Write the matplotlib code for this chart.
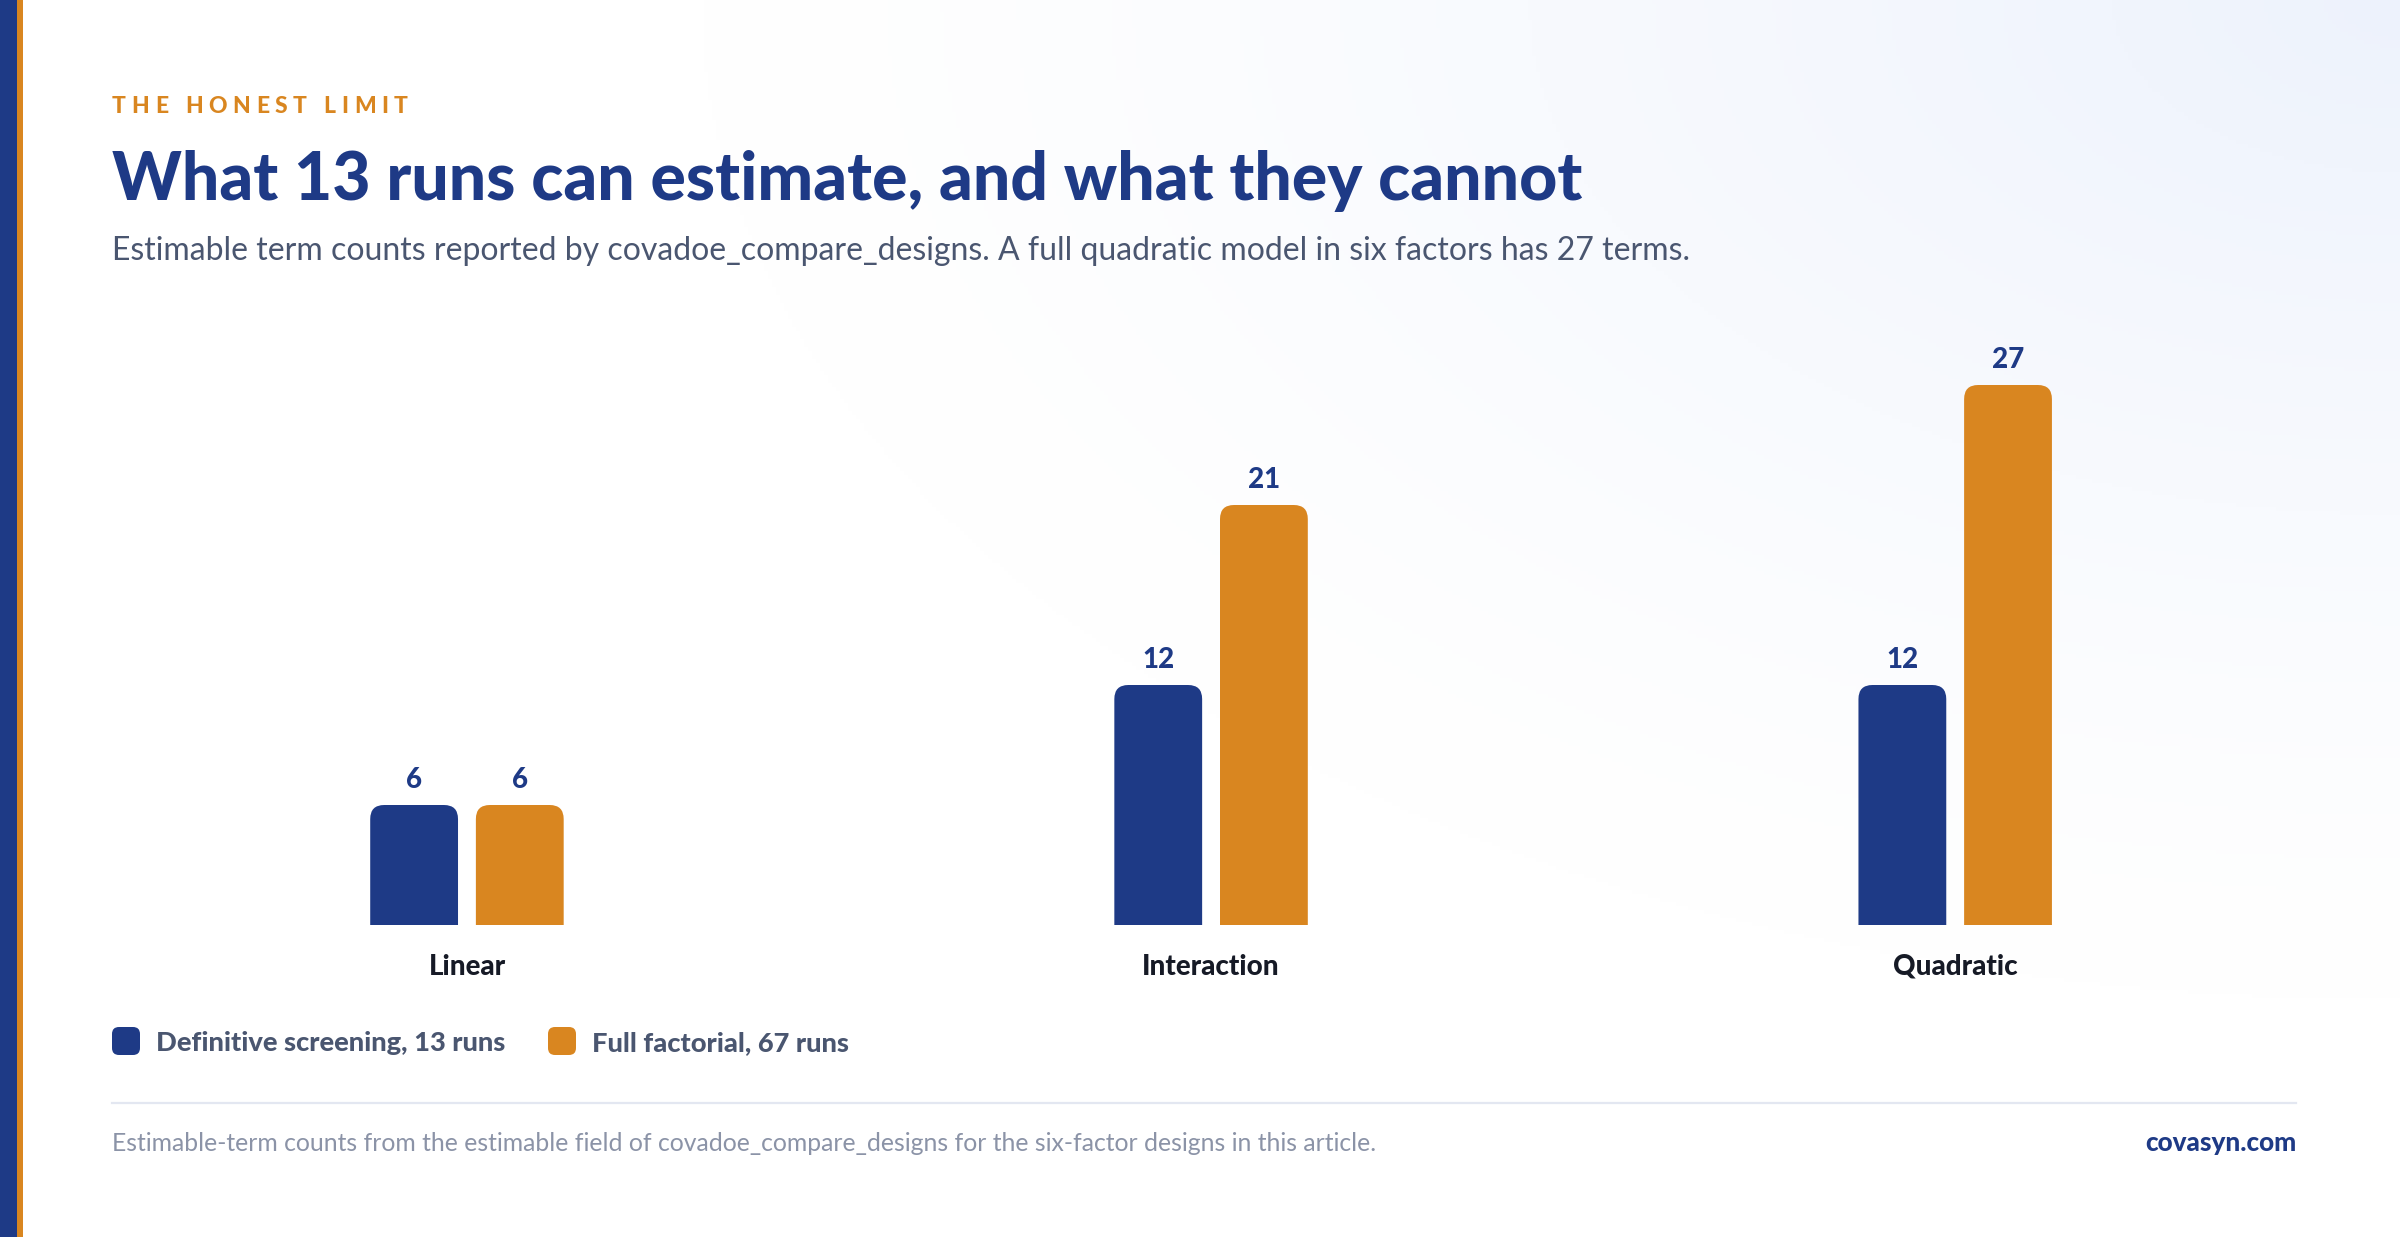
import numpy as np
import matplotlib
matplotlib.use("Agg")
import matplotlib.pyplot as plt
from matplotlib.patches import FancyBboxPatch, Rectangle
from matplotlib.lines import Line2D
from matplotlib.transforms import Affine2D

# ── data ──
categories = ["Linear", "Interaction", "Quadratic"]
dsd_terms = [6, 12, 12]
ff_terms = [6, 21, 27]
series_labels = ["Definitive screening, 13 runs", "Full factorial, 67 runs"]

EYEBROW = "THE HONEST LIMIT"
TITLE = "What 13 runs can estimate, and what they cannot"
SUBTITLE = ("Estimable term counts reported by covadoe_compare_designs. "
            "A full quadratic model in six factors has 27 terms.")
FOOTER = ("Estimable-term counts from the estimable field of covadoe_compare_designs "
          "for the six-factor designs in this article.")
BRAND = "covasyn.com"

# ── style ──
W, H = 2400, 1237
NAVY = "#1e3a86"
ORANGE = "#d98620"
SLATE = "#4a5670"
GREY = "#8b93a7"
INK = "#161a26"
FONT = "Lato"
plt.rcParams["font.family"] = [FONT, "DejaVu Sans"]

fig = plt.figure(figsize=(W / 100, H / 100), dpi=100)
# pixel coords, origin top-left
PX = Affine2D().scale(1 / W, -1 / H).translate(0, 1) + fig.transFigure
rend = fig.canvas.get_renderer()

# background: white with a faint blue wash in the top-right corner
bg = fig.add_axes([0, 0, 1, 1], zorder=-10)
yy, xx = np.mgrid[0:H:4, 0:W:4]
d = np.sqrt(((W - xx) / 1700.0) ** 2 + (yy / 1000.0) ** 2)
t = np.clip(1 - d, 0, 1) ** 1.3
tint = np.array([0.93, 0.95, 0.99])
img = 1 - t[..., None] * (1 - tint)
bg.imshow(img, extent=[0, 1, 0, 1], aspect="auto", origin="upper")
bg.axis("off")

# left accent stripes
fig.patches.append(Rectangle((0, 0), 17, H, transform=PX, color=NAVY, lw=0))
fig.patches.append(Rectangle((17, 0), 6, H, transform=PX, color=ORANGE, lw=0))


def fit(txt, target):
    w = txt.get_window_extent(rend).width
    txt.set_fontsize(txt.get_fontsize() * target / w)


# eyebrow with letter spacing
ey_size, ey_target = 16.5, 295
probe = fig.text(0, 0, EYEBROW, fontsize=ey_size, fontweight="black")
w0 = probe.get_window_extent(rend).width
probe.remove()
gap = (ey_target - w0) / (len(EYEBROW) - 1)
x = 112
for ch in EYEBROW:
    c = fig.text(x, 113, ch, transform=PX, fontsize=ey_size, fontweight="black",
                 color=ORANGE, va="baseline")
    cw = c.get_window_extent(rend).width if ch != " " else ey_size * 0.35
    x += cw + gap

title = fig.text(112, 200, TITLE, transform=PX, fontsize=43, fontweight="black",
                 color=NAVY, va="baseline")
fit(title, 1469)
sub = fig.text(112, 260, SUBTITLE, transform=PX, fontsize=20, color=SLATE,
               va="baseline")
fit(sub, 1578)

# ── bars ──
ax = fig.add_axes([112 / W, (H - 925) / H, 2184 / W, 600 / H])
ax.set_xlim(-0.477, 2.458)
ax.set_ylim(0, 30)
ax.axis("off")
ax.patch.set_alpha(0)

bw, off = 0.118, 0.071
xs = np.arange(len(categories))
xpx = 2184 / (ax.get_xlim()[1] - ax.get_xlim()[0])
ypx = 600 / (ax.get_ylim()[1] - ax.get_ylim()[0])
aspect = xpx / ypx
r = 14 / xpx
drop = 2.0  # rounded box runs below the baseline and gets clipped there

for vals, col, dx in [(dsd_terms, NAVY, -off), (ff_terms, ORANGE, off)]:
    bars = ax.bar(xs + dx, vals, bw, color=col, lw=0)
    for b, v in zip(bars, vals):
        x0, w, h = b.get_x(), b.get_width(), b.get_height()
        b.set_visible(False)
        ax.add_patch(FancyBboxPatch((x0, -drop), w, h + drop,
                                    boxstyle=f"round,pad=0,rounding_size={r}",
                                    mutation_aspect=aspect, color=col, lw=0))
        ax.annotate(str(v), (x0 + w / 2, h), xytext=(0, 12),
                    textcoords="offset points", ha="center", va="baseline",
                    fontsize=20, fontweight="black", color=NAVY)

for i, cat in enumerate(categories):
    ax.annotate(cat, (xs[i], 0), xytext=(0, -36), textcoords="offset points",
                ha="center", va="baseline", fontsize=20, fontweight="black",
                color=INK, annotation_clip=False)

# ── legend ──
lx = 112
for lab, col, tw in zip(series_labels, [NAVY, ORANGE], [348, 256]):
    fig.patches.append(FancyBboxPatch((lx, 1027), 28, 28, transform=PX,
                                      boxstyle="round,pad=0,rounding_size=7",
                                      color=col, lw=0))
    lt = fig.text(lx + 44, 1051, lab, transform=PX, fontsize=19,
                  fontweight="black", color=SLATE, va="baseline")
    fit(lt, tw)
    lx = lx + 44 + tw + 44

# ── footer ──
fig.lines.append(Line2D([112, 2296], [1103, 1103], transform=PX,
                        color="#e3e7f1", lw=1.6))
ft = fig.text(112, 1151, FOOTER, transform=PX, fontsize=14, color=GREY,
              va="baseline")
fit(ft, 1269)
br = fig.text(2296, 1151, BRAND, transform=PX, fontsize=18, fontweight="black",
              color=NAVY, ha="right", va="baseline")
fit(br, 151)

fig.savefig("out.png", dpi=100)
